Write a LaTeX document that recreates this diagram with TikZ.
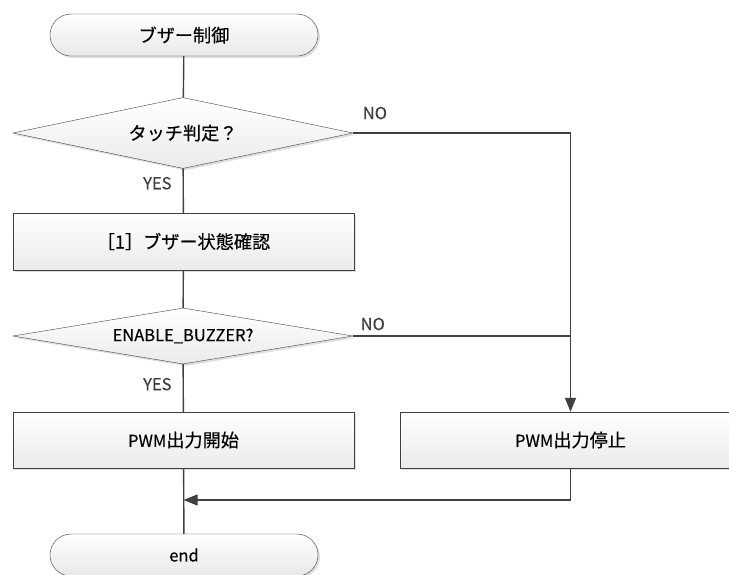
\documentclass[tikz,border=0pt]{standalone}
\usepackage{fontspec}
\setmainfont{Noto Sans CJK JP}[FakeBold=0.4]
\newfontfamily\jp{Noto Sans CJK JP}[Scale=1.1,FakeBold=0.4]
\usetikzlibrary{arrows.meta,shapes,shadows}
\definecolor{linegray}{HTML}{404040}
\tikzstyle{term}=[rectangle,rounded corners=21pt,draw=linegray,thin,top color=white,bottom color=black!9,minimum width=268pt,minimum height=42pt,inner sep=0pt,drop shadow={shadow xshift=2pt,shadow yshift=-2pt,opacity=0.25}]
\tikzstyle{proc}=[rectangle,draw=linegray,thin,top color=white,bottom color=black!8,minimum width=341pt,minimum height=57pt,inner sep=0pt,drop shadow={shadow xshift=2pt,shadow yshift=-2pt,opacity=0.25}]
\tikzstyle{decision}=[diamond,aspect=4.8,draw=linegray,thin,top color=white,bottom color=black!8,minimum width=340pt,inner sep=0pt,drop shadow={shadow xshift=2pt,shadow yshift=-2pt,opacity=0.25}]
\tikzstyle{edge} = [draw,line width=1.4pt,linegray]
\tikzstyle{lbl}=[inner sep=0pt]

\begin{document}
\begin{tikzpicture}[x=1pt,y=-1pt,font=\fontsize{16.5pt}{19pt}\selectfont]
        \tikzset{edge/.append style = {-{Triangle[length=14pt,width=11pt]}}}
        \useasboundingbox (0,0) rectangle (729,574);
        \clip (0,0) rectangle (729,574);
        \node[term] (start) at (184,35) {\jp ブザー制御};
        \node[decision,minimum height=71pt] (touch) at (183,133) {\jp タッチ判定？};
        \node[proc] (check) at (183.5,241.5) {\jp ［1］ブザー状態確認};
        \node[decision,minimum height=56pt] (enable) at (183,336) {ENABLE\_BUZZER?};
        \node[proc,minimum height=56pt] (pwmon) at (183.5,440) {PWM{\jp 出力開始}};
        \node[proc,minimum height=56pt] (pwmoff) at (570.5,440) {PWM{\jp 出力停止}};
        \node[term] (stop) at (184,555) {end};
        \coordinate (join) at (enable.east -| pwmoff.north);
        \coordinate (merge) at (pwmon.south |- 0,500);
        \draw[edge,-] (start) to (touch);
        \draw[edge,-] (touch) to node[lbl,pos=0.33,left=11pt] {YES} (check);
        \draw[edge,-] (check) to (enable);
        \draw[edge,-] (enable) to node[lbl,pos=0.42,left=11pt] {YES} (pwmon);
        \draw[edge] (touch.east) -| node[lbl,pos=0.05,above=13pt] {NO} (pwmoff.north);
        \draw[edge,-] (enable.east) to node[lbl,pos=0.09,above=5pt] {NO} (join);
        \draw[edge,-] (pwmon) to (stop);
        \draw[edge] (pwmoff.south) |- (merge);
      \end{tikzpicture}
\end{document}
